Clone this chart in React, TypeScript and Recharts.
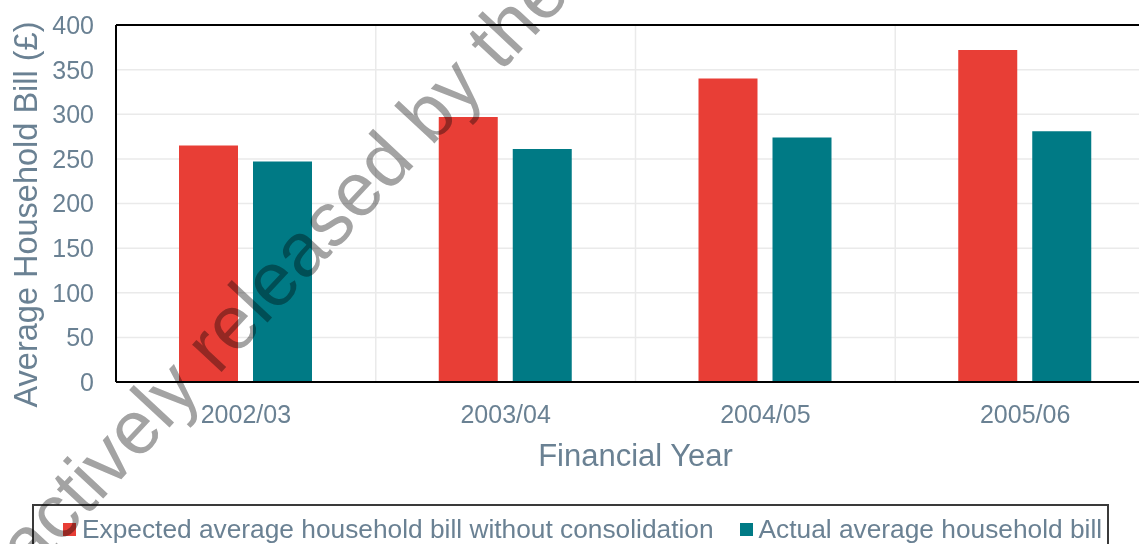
import { Bar, BarChart, CartesianGrid, ReferenceLine, XAxis, YAxis } from 'recharts';

const YEARS = ['2002/03', '2003/04', '2004/05', '2005/06'];
const EXPECTED = [265, 297, 340, 372];
const ACTUAL = [247, 261, 274, 281];
const Y_TICKS = [0, 50, 100, 150, 200, 250, 300, 350, 400];

const SERIES = [
  { key: 'expected', name: 'Expected average household bill without consolidation', color: '#E83E36' },
  { key: 'actual', name: 'Actual average household bill', color: '#007A85' },
];

const DATA = YEARS.map((year, i) => ({ year, expected: EXPECTED[i], actual: ACTUAL[i] }));

const TEXT = '#6A8193';
const FONT = '"Liberation Sans", Arial, sans-serif';

function YTitle({ viewBox }: any) {
  const x = 37;
  const y = viewBox.y + viewBox.height / 2 + 11;
  return (
    <text x={x} y={y} transform={`rotate(-90, ${x}, ${y})`} textAnchor="middle" fill={TEXT} fontSize={32.5}>
      Average Household Bill (£)
    </text>
  );
}

function XTitle({ viewBox }: any) {
  return (
    <text x={viewBox.x + viewBox.width / 2} y={viewBox.y + 84} textAnchor="middle" fill={TEXT} fontSize={31}>
      Financial Year
    </text>
  );
}

export default function App() {
  return (
    <div
      style={{
        position: 'absolute',
        left: 0,
        top: 0,
        width: 1139,
        height: 544,
        overflow: 'hidden',
        background: '#fff',
        fontFamily: FONT,
      }}
    >
      <BarChart
        width={1160}
        height={544}
        data={DATA}
        margin={{ top: 25, right: 5, left: 0, bottom: 72 }}
        barSize={59}
        barGap={15}
        style={{ fontFamily: FONT }}
      >
        <CartesianGrid
          stroke="#EAEAEA"
          strokeWidth={1.5}
          verticalCoordinatesGenerator={({ offset }: any) =>
            YEARS.slice(1).map((_, i) => offset.left + ((i + 1) * offset.width) / YEARS.length)
          }
        />
        <XAxis
          dataKey="year"
          tickLine={false}
          tickSize={0}
          tickMargin={23}
          height={90}
          interval={0}
          tick={{ fill: TEXT, fontSize: 25 }}
          axisLine={{ stroke: '#000', strokeWidth: 2 }}
          label={<XTitle />}
        />
        <YAxis
          domain={[0, 400]}
          ticks={Y_TICKS}
          width={116}
          tickLine={false}
          tickSize={0}
          tickMargin={22}
          tick={{ fill: TEXT, fontSize: 25 }}
          axisLine={{ stroke: '#000', strokeWidth: 2 }}
          label={<YTitle />}
        />
        <ReferenceLine y={400} stroke="#000" strokeWidth={2} />
        {SERIES.map((s) => (
          <Bar key={s.key} dataKey={s.key} name={s.name} fill={s.color} isAnimationActive={false} />
        ))}
      </BarChart>

      <div
        style={{
          position: 'absolute',
          left: 32,
          top: 504,
          width: 1077,
          height: 60,
          border: '2.5px solid #3A3A3A',
          boxSizing: 'border-box',
          display: 'flex',
          alignItems: 'flex-start',
          paddingLeft: 29,
          paddingTop: 8,
          gap: 26,
          color: TEXT,
          fontSize: 26.3,
          whiteSpace: 'nowrap',
        }}
      >
        {SERIES.map((s) => (
          <div key={s.key} style={{ display: 'flex', alignItems: 'center', gap: 6, lineHeight: '30px' }}>
            <span style={{ width: 13, height: 13, background: s.color, display: 'inline-block' }} />
            <span>{s.name}</span>
          </div>
        ))}
      </div>

      <svg
        width={1139}
        height={544}
        style={{ position: 'absolute', left: 0, top: 0, pointerEvents: 'none', mixBlendMode: 'multiply' }}
      >
        <text x={-50} y={663} transform="rotate(-47, -50, 663)" fill="#A3A3A3" fontSize={76} fontFamily={FONT}>
          Proactively released by the DfE
        </text>
      </svg>
    </div>
  );
}
